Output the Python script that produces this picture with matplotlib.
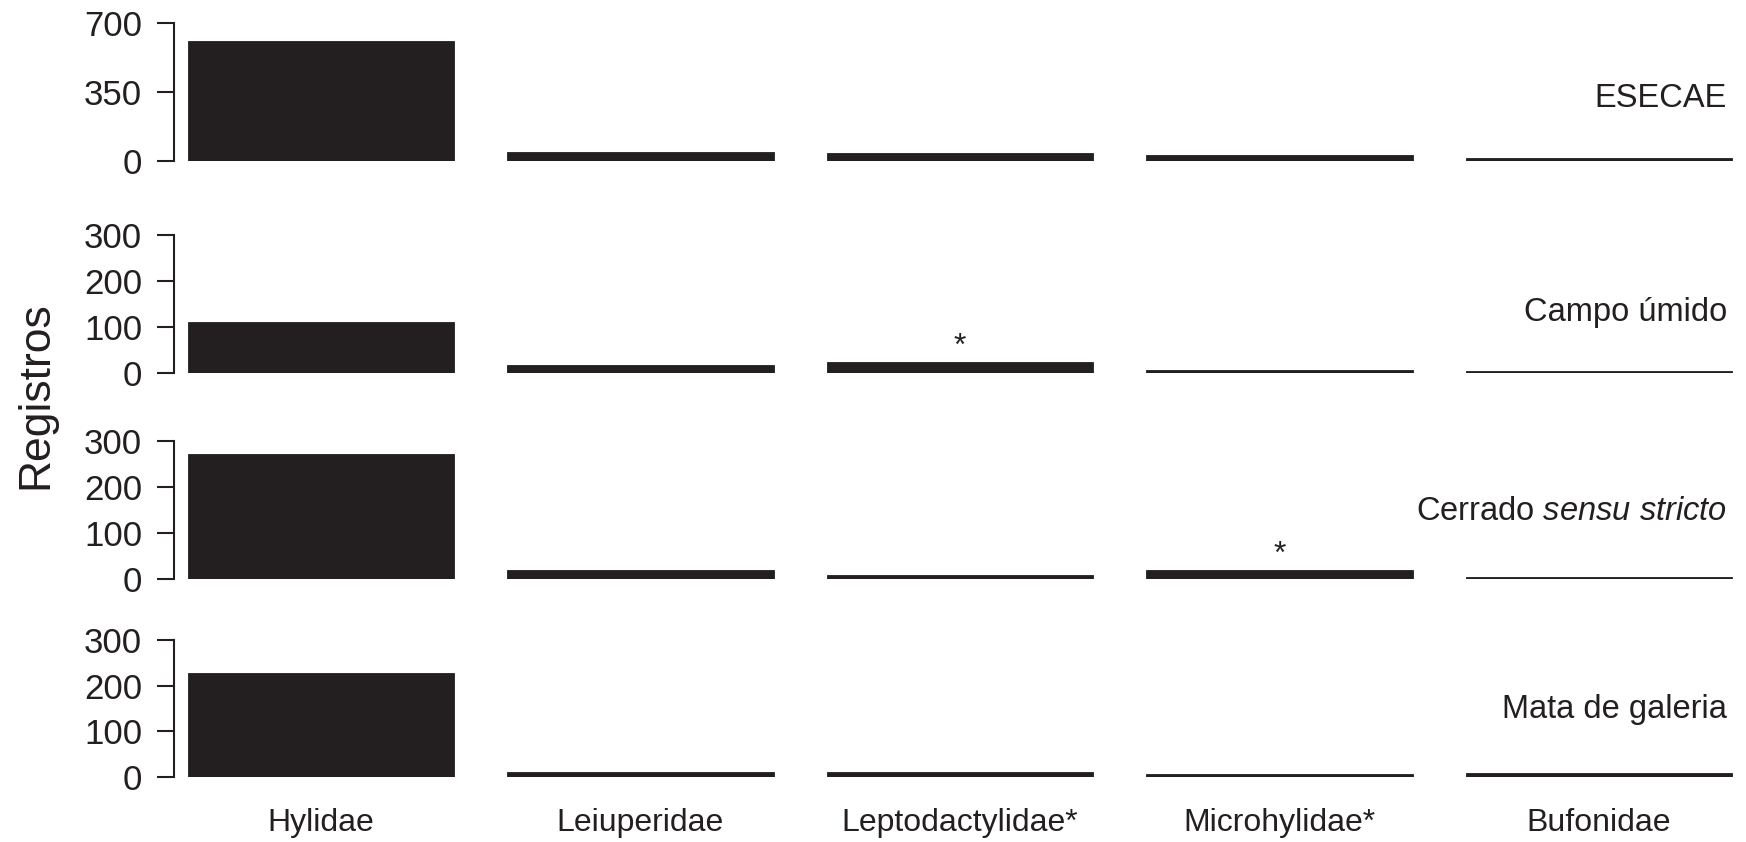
import numpy as np
import matplotlib
matplotlib.use("Agg")
import matplotlib.pyplot as plt

plt.rcParams['font.family'] = ['Liberation Sans', 'DejaVu Sans']
plt.rcParams['mathtext.fontset'] = 'custom'
plt.rcParams['mathtext.rm'] = 'Liberation Sans'
plt.rcParams['mathtext.it'] = 'Liberation Sans:italic'

INK = '#231f20'

# families (columns) and records per habitat (rows)
familias = ['Hylidae', 'Leiuperidae', 'Leptodactylidae*', 'Microhylidae*', 'Bufonidae']
habitats = ['ESECAE', 'Campo úmido', r'Cerrado $\mathit{sensu\ stricto}$', 'Mata de galeria']

esecae = [611, 48, 43, 30, 16]
campo_umido = [111, 17, 24, 6, 4]
cerrado_ss = [272, 20, 8, 20, 4]
mata_galeria = [228, 11, 11, 5, 9]

y_ticks = [[0, 350, 700], [0, 100, 200, 300], [0, 100, 200, 300], [0, 100, 200, 300]]

# significant differences marked with an asterisk: (row, column)
destaques = [(1, 2), (2, 3)]

series = [esecae, campo_umido, cerrado_ss, mata_galeria]

W, H = 1746, 842
fig = plt.figure(figsize=(W / 100, H / 100), dpi=100)

# panel extents in pixels: (top of y range, baseline) and label height
paineis = [(23, 161), (235, 373), (441, 579), (640, 776.7)]
pos_rotulo = [0.455, 0.44, 0.49, 0.49]
left_px = 174

x = np.arange(len(familias))
axes = []
for i, (topo, base) in enumerate(paineis):
    ax = fig.add_axes([left_px / W, 1 - base / H, 1 - left_px / W, (base - topo) / H])
    ax.bar(x, series[i], width=0.835, color=INK, edgecolor=INK, linewidth=0.6)
    ax.set_xlim(-0.46, 4.46)
    ax.set_ylim(0, y_ticks[i][-1])
    ax.set_yticks(y_ticks[i])
    ax.set_yticklabels([str(t) for t in y_ticks[i]])
    for s in ['top', 'right', 'bottom']:
        ax.spines[s].set_visible(False)
    ax.spines['left'].set_linewidth(1.5)
    ax.spines['left'].set_color(INK)
    ax.tick_params(axis='y', length=12, width=1.5, color=INK, pad=11,
                   labelsize=25, labelcolor=INK)
    ax.tick_params(axis='x', length=0, labelbottom=False)
    ax.patch.set_visible(False)
    ax.text(0.988, pos_rotulo[i], habitats[i], transform=ax.transAxes, ha='right',
            va='center', fontsize=23.5, color=INK)
    axes.append(ax)

for lin, col in destaques:
    axes[lin].annotate('*', xy=(x[col], series[lin][col]), xytext=(0, 5),
                       textcoords='offset points', ha='center', va='baseline',
                       fontsize=23, color=INK, annotation_clip=False)

ax_base = axes[-1]
for xi, nome in zip(x, familias):
    ax_base.text(xi, -0.338, nome, transform=ax_base.get_xaxis_transform(),
                 ha='center', va='center', fontsize=23, color=INK)

fig.text(35.6 / W, 1 - 395 / H, 'Registros', rotation=90, ha='center',
         va='center', fontsize=32, color=INK)

fig.savefig('out.png', dpi=100)
